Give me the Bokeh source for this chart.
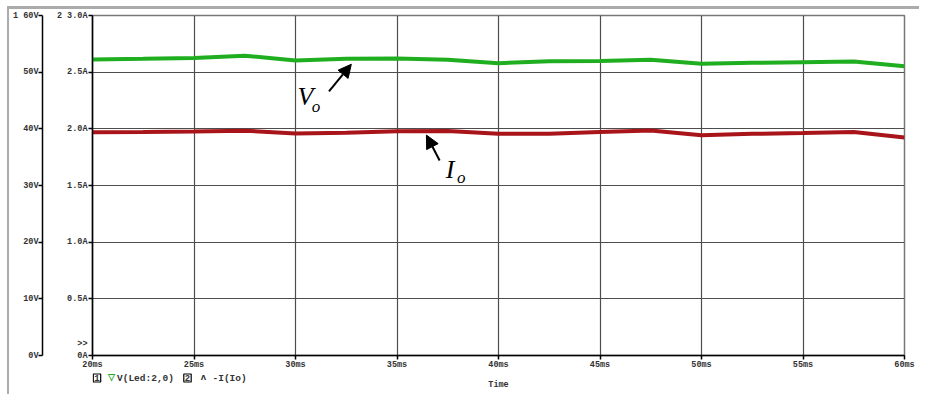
from bokeh.plotting import figure
from bokeh.layouts import column
from bokeh.models import (Range1d, LinearAxis, FixedTicker, Label, Arrow,
                          NormalHead, ColumnDataSource)
from bokeh.embed import file_html
from bokeh.resources import INLINE

# ---- data ----
time_ms = [20, 22.5, 25, 27.5, 30, 32.5, 35, 37.5, 40, 42.5, 45, 47.5, 50,
           52.5, 55, 57.5, 60]
vo_volts = [52.24, 52.36, 52.50, 52.90, 52.06, 52.36, 52.41, 52.18, 51.58,
            51.94, 51.97, 52.18, 51.48, 51.65, 51.76, 51.88, 51.05]
io_amps = [1.970, 1.972, 1.976, 1.983, 1.959, 1.965, 1.978, 1.981, 1.956,
           1.956, 1.972, 1.985, 1.943, 1.956, 1.963, 1.972, 1.924]

x_ticks = [20, 25, 30, 35, 40, 45, 50, 55, 60]
x_tick_labels = ["20ms", "25ms", "30ms", "35ms", "40ms", "45ms", "50ms",
                 "55ms", "60ms"]
a_ticks = [0, 0.5, 1.0, 1.5, 2.0, 2.5, 3.0]
a_tick_labels = [">>\n0A\n", "0.5A", "1.0A", "1.5A", "2.0A", "2.5A", "3.0A"]
v_ticks = [0, 10, 20, 30, 40, 50, 60]
v_tick_labels = ["0V", "10V", "20V", "30V", "40V", "50V", "60V"]
axis_numbers = ["1", "2"]          # PSpice axis ids (V axis, A axis)
trace1_name = "V(Led:2,0)"
trace2_name = "-I(Io)"
x_title = "Time"

GREEN = "#1fae1f"
RED = "#a8141a"
FONT = "Liberation Mono"
TXT = "#333333"

p = figure(width=910, height=363, x_range=Range1d(20, 60),
           y_range=Range1d(0, 3), output_backend="svg",
           toolbar_location=None, min_border_left=83, min_border_right=15,
           min_border_top=6, min_border_bottom=17)
p.extra_y_ranges = {"volts": Range1d(0, 60)}
p.outline_line_color = "#777777"
p.outline_line_width = 1.5
p.background_fill_color = "white"


def style_axis(ax):
    ax.major_label_text_font = FONT
    ax.major_label_text_font_size = "8.5px"
    ax.major_label_text_font_style = "bold"
    ax.major_label_text_color = TXT
    ax.minor_tick_line_color = None
    ax.major_tick_in = 0
    ax.major_tick_out = 4
    ax.axis_line_width = 1.5
    ax.major_tick_line_width = 1.5
    ax.axis_line_color = "black"
    ax.major_tick_line_color = "black"


# x axis
ax_x = p.xaxis[0]
ax_x.ticker = FixedTicker(ticks=x_ticks)
ax_x.major_label_overrides = {t: l for t, l in zip(x_ticks, x_tick_labels)}
style_axis(ax_x)
ax_x.major_label_standoff = 0

# amps axis (inner); the top label carries the axis id
a_over = {t: l for t, l in zip(a_ticks, a_tick_labels)}
a_over[a_ticks[-1]] = axis_numbers[1] + " " + a_tick_labels[-1]
ax_a = p.yaxis[0]
ax_a.ticker = FixedTicker(ticks=a_ticks)
ax_a.major_label_overrides = a_over
style_axis(ax_a)
ax_a.major_label_standoff = 1
ax_a.axis_label = "2"
ax_a.axis_label_text_alpha = 0
ax_a.axis_label_text_font_size = "10px"
ax_a.axis_label_standoff = 0

# volts axis (outer)
v_over = {t: l for t, l in zip(v_ticks, v_tick_labels)}
v_over[v_ticks[-1]] = axis_numbers[0] + " " + v_tick_labels[-1]
ax_v = LinearAxis(y_range_name="volts", ticker=FixedTicker(ticks=v_ticks))
ax_v.major_label_overrides = v_over
style_axis(ax_v)
ax_v.major_label_standoff = 0
p.add_layout(ax_v, "left")

# grid
p.xgrid.ticker = FixedTicker(ticks=x_ticks)
p.ygrid.ticker = FixedTicker(ticks=a_ticks)
for g in (p.xgrid, p.ygrid):
    g.grid_line_color = "#4d4d4d"
    g.grid_line_width = 1.2
    g.grid_line_alpha = 1

# traces
src = ColumnDataSource(dict(t=time_ms, v=vo_volts, i=io_amps))
p.line("t", "v", source=src, y_range_name="volts", line_color=GREEN,
       line_width=4)
p.line("t", "i", source=src, line_color=RED, line_width=4)


def lab(fig, x, y, text, size="8.5px", color=TXT, style="bold", font=FONT,
        **kw):
    fig.add_layout(Label(x=x, y=y, text=text, text_font=font,
                         text_font_size=size, text_color=color,
                         text_font_style=style, text_baseline="middle", **kw))


# annotations in the plot
lab(p, 30.1, 2.285, "V", size="26px", color="black", style="italic",
    font="Liberation Serif")
lab(p, 30.8, 2.20, "o", size="17px", color="black", style="italic",
    font="Liberation Serif")
lab(p, 37.4, 1.64, "I", size="26px", color="black", style="italic",
    font="Liberation Serif")
lab(p, 37.95, 1.57, "o", size="17px", color="black", style="italic",
    font="Liberation Serif")

p.add_layout(Arrow(end=NormalHead(size=13, fill_color="black",
                                  line_color="black"),
                   x_start=31.65, y_start=2.33, x_end=32.75, y_end=2.57,
                   line_width=2, line_color="black"))
p.add_layout(Arrow(end=NormalHead(size=13, fill_color="black",
                                  line_color="black"),
                   x_start=37.1, y_start=1.72, x_end=36.45, y_end=1.945,
                   line_width=2, line_color="black"))

# strip below the plot (its frame lines up with the plot frame):
# trace legend and x-axis title, positioned in pixels from the frame's
# left edge and top
s = figure(width=910, height=22, x_range=Range1d(0, 812),
           y_range=Range1d(22, 0), output_backend="svg",
           toolbar_location=None, min_border=0, x_axis_type=None,
           y_axis_type=None)
s.outline_line_color = None
s.xgrid.visible = False
s.ygrid.visible = False

leg_y = 5.5
lab(s, 4.5, leg_y, "1", size="9px", text_align="center",
    border_line_color="black", border_line_width=1.2, padding=1)
lab(s, 19, leg_y, "▽", size="9px", color=GREEN, text_align="center")
lab(s, 24.5, leg_y, trace1_name, size="9.5px")
lab(s, 95, leg_y, "2", size="9px", text_align="center",
    border_line_color="black", border_line_width=1.2, padding=1)
lab(s, 111, leg_y, "ʌ", size="9px", color="#222222", text_align="center")
lab(s, 120, leg_y, trace2_name, size="9.5px")
lab(s, 406, 12.5, x_title, text_align="center")

layout = column(p, s, spacing=0)
layout.styles = {"border-top": "3px solid #ababab",
                 "border-left": "2px solid #ababab",
                 "margin-left": "7px", "margin-top": "6px"}

open("out.html", "w").write(file_html(layout, INLINE))
